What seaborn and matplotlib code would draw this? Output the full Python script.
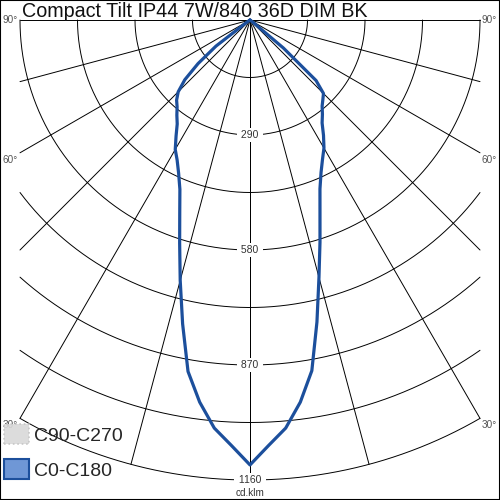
import numpy as np
import pandas as pd
import matplotlib
matplotlib.use("Agg")
import matplotlib.pyplot as plt
import seaborn as sns
from matplotlib.patches import Patch

title = "Compact Tilt IP44 7W/840 36D DIM BK"
unit = "cd.klm"
gamma = [0, 2.5, 5, 7.5, 10, 12.5, 15, 17.5, 20, 22.5, 25, 27.5, 30, 32.5,
         35, 37.5, 40, 42.5, 45, 47.5, 50, 52.5, 55, 60, 90]
c0 = [1122, 1074, 1033, 972, 898, 780, 672, 587, 516, 461, 424, 396, 373, 345,
      317, 300, 283, 272, 262, 226, 110, 10, 0, 0, 0]
c180 = [1122, 1074, 1033, 972, 900, 785, 680, 590, 518, 462, 426, 398, 377,
        347, 320, 303, 286, 274, 256, 223, 171, 108, 10, 0, 0]

ring_step = 145
ring_max = 1160
ring_labels = [290, 580, 870, 1160]
spoke_angles = [0, 15, 30, 45, 60, 75, 90]
angle_labels = [90, 60, 30]
legend_labels = ["C90-C270", "C0-C180"]

sns.set_style("white")
plt.rcParams['font.family'] = ['Liberation Sans', 'DejaVu Sans']

fig = plt.figure(figsize=(5, 5), dpi=100)
ax = fig.add_axes([0, 0, 1, 1])

px = 460 / ring_max          # pixels per cd/klm
clip = ring_max / 2          # grid is cut at +-clip horizontally
ax.set_xlim(-250 / px, 250 / px)
ax.set_ylim(480 / px, -20 / px)
ax.set_xticks([])
ax.set_yticks([])
for sp in ax.spines.values():
    sp.set_visible(True)
    sp.set_color("black")
    sp.set_linewidth(1.5)

grid_kw = dict(color="black", lw=0.7, zorder=1)

# spokes
for a in spoke_angles:
    t = np.radians(a)
    L = ring_max if a == 0 else min(ring_max, clip / np.sin(t))
    for sgn in (-1, 1):
        ax.plot([0, sgn * L * np.sin(t)], [0, L * np.cos(t)], **grid_kw)

# rings
for r in np.arange(ring_step, ring_max + 1, ring_step):
    gmax = 90 if r <= clip else np.degrees(np.arcsin(clip / r))
    th = np.radians(np.linspace(-gmax, gmax, 400))
    ax.plot(r * np.sin(th), r * np.cos(th), **grid_kw)

# ring labels
for v in ring_labels:
    ax.text(0, v, f" {v} ", ha="center", va="center", fontsize=7.5,
            color="#333333", zorder=3,
            bbox=dict(boxstyle="square,pad=0.15", fc="white", ec="none"))
ax.text(0, ring_max + 13 / px, unit, ha="center", va="center", fontsize=7.2,
        color="#333333")

# angle labels at the ends of the spokes
for a in angle_labels:
    t = np.radians(a)
    L = min(ring_max, clip / np.sin(t))
    y = L * np.cos(t)
    va = "center" if a == 90 else "top"
    yy = y if a == 90 else y + 2 / px
    ax.text(-clip - 2 / px, yy, f"{a}°", ha="right", va=va, fontsize=7.2,
            color="#555555")
    ax.text(clip + 2 / px, yy, f"{a}°", ha="left", va=va, fontsize=7.2,
            color="#555555")

# luminous intensity curve
g = np.radians(np.array(gamma))
xs = np.concatenate([-(np.array(c180) * np.sin(g))[::-1], np.array(c0) * np.sin(g)])
ys = np.concatenate([(np.array(c180) * np.cos(g))[::-1], np.array(c0) * np.cos(g)])
df = pd.DataFrame({"x": xs, "y": ys})
sns.lineplot(data=df, x="x", y="y", sort=False, estimator=None, ax=ax,
             color="#1c4f9c", lw=2.3, zorder=4)
ax.set_xlabel("")
ax.set_ylabel("")

# title
ax.text(0.044, 1 - 17.3 / 500, title, transform=ax.transAxes, ha="left",
        va="baseline", fontsize=14.2, color="#111111")

handles = [
    Patch(facecolor="#d9d9d9", edgecolor="#c4c4c4", lw=1.2, ls=":", alpha=0.9,
          label=legend_labels[0]),
    Patch(facecolor="#6f97d6", edgecolor="#1c4f9c", lw=1.5,
          label=legend_labels[1]),
]
ax.legend(handles=handles, loc="lower left", bbox_to_anchor=(0.008, 0.04),
          frameon=False, fontsize=14, handlelength=1.3, handleheight=1.2,
          handletextpad=0.25, labelspacing=0.75, borderpad=0, borderaxespad=0)

fig.savefig("out.png", dpi=100)
